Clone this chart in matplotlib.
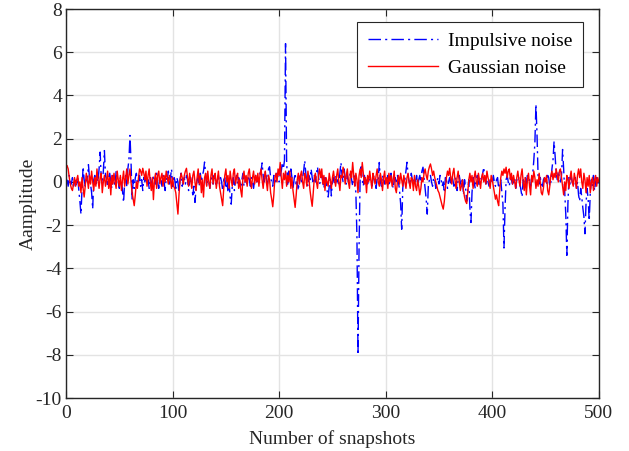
import numpy as np
import matplotlib.pyplot as plt

plt.rcParams['font.family'] = ['Liberation Serif', 'DejaVu Serif']
plt.rcParams['axes.unicode_minus'] = False

# impulsive noise, snapshots 1..500
impulsive = [
    0.1, -0.2, 0.3, 0.0, -0.1, 0.2, -0.3, 0.1, 0.0, -0.2,
    0.2, -0.4, -0.9, -1.5, -0.3, 0.7, 0.1, -0.2, 0.3, 0.0,
    0.8, 0.2, -0.1, -0.5, -1.25, 0.1, 0.3, -0.2, 0.4, 0.0,
    0.6, 1.38, 0.2, -0.1, 0.5, 1.45, 0.3, 0.1, -0.2, 0.2,
    0.4, 0.0, -0.3, 0.3, 0.1, -0.2, 0.5, 0.2, 0.0, -0.3,
    0.2, 0.1, -0.4, -0.95, 0.0, 0.3, -0.2, 0.6, 1.0, 2.15,
    0.9, -0.79, 0.1, -0.3, 0.2, 0.4, -0.1, 0.0, 0.3, -0.2,
    0.1, -0.4, 0.2, 0.0, 0.3, -0.1, 0.1, -0.3, 0.2, 0.0,
    -0.2, 0.3, 0.1, -0.1, 0.4, 0.0, -0.3, 0.2, 0.1, -0.2,
    0.3, 0.0, -0.4, 0.2, 0.1, 0.5, -0.1, 0.2, 0.6, -0.2,
    0.3, 0.1, -0.3, 0.2, 0.0, -0.5, 0.1, 0.4, -0.2, 0.0,
    0.2, -0.1, 0.3, 0.1, -0.4, 0.0, 0.2, -0.3, -0.6, -0.2,
    -0.95, -0.3, 0.1, 0.2, -0.2, 0.4, 0.0, 0.3, 0.5, 0.92,
    0.4, -0.2, 0.1, 0.0, -0.3, 0.2, 0.1, -0.1, 0.3, 0.0,
    -0.2, 0.1, 0.3, -0.1, 0.2, 0.0, -0.4, 0.1, 0.2, -0.3,
    0.1, -0.5, 0.0, -0.7, -1.03, -0.2, 0.2, -0.4, 0.1, 0.3,
    -0.1, 0.2, 0.0, -0.3, 0.1, 0.4, -0.2, 0.0, 0.2, -0.1,
    0.3, 0.1, -0.2, 0.2, 0.0, -0.3, 0.1, 0.3, 0.0, 0.2,
    -0.1, 0.4, 0.5, 0.88, 0.3, 0.0, 0.5, 0.2, -0.1, 0.6,
    0.7, 0.2, 0.0, -0.2, 0.3, 0.1, -0.1, 0.4, 0.2, 0.0,
    0.3, 0.5, 0.9, 0.6, 1.0, 6.4, 1.0, -0.2, 0.5, 0.1,
    0.6, 0.2, -0.3, 0.1, 0.4, -0.1, 0.0, -0.4, 0.2, 0.3,
    -0.1, 0.2, 0.5, 0.99, 0.4, 0.0, -0.2, 0.3, 0.1, 0.6,
    0.2, -0.1, 0.3, 0.0, 0.4, 0.7, 0.2, -0.1, 0.1, 0.3,
    0.0, -0.3, 0.2, 0.1, -0.4, -0.7, -0.2, 0.1, -0.65, 0.0,
    0.2, -0.1, 0.3, 0.0, 0.1, -0.2, 0.4, 0.9, 0.3, 0.0,
    0.6, 0.2, -0.1, 0.3, 0.0, 0.2, 0.5, 0.1, -0.2, 0.3,
    0.0, -0.5, -2.5, -8.0, -3.0, 0.2, 0.7, 0.1, -0.2, 0.3,
    0.0, 0.2, -0.1, 0.3, 0.1, 0.0, -0.2, 0.1, 0.3, 0.0,
    -0.3, 0.2, 0.1, 0.9, 0.0, -0.2, 0.3, 0.1, -0.1, 0.2,
    0.0, 0.3, -0.2, 0.1, 0.4, 0.0, -0.3, 0.1, 0.2, -0.1,
    0.3, 0.0, -0.4, -1.0, -2.19, -0.3, 0.2, 0.1, 0.5, 0.91,
    0.3, 0.0, -0.2, 0.4, 0.1, -0.1, 0.2, 0.0, 0.3, -0.2,
    0.1, 0.3, 0.0, 0.5, 0.68, 0.2, -0.3, -0.8, -1.49, -0.2,
    0.1, 0.3, 0.0, -0.2, 0.2, 0.1, -0.3, 0.0, 0.2, -0.1,
    0.3, 0.1, -0.2, 0.0, -0.5, 0.2, 0.1, -0.3, 0.0, 0.2,
    -0.1, 0.3, 0.1, -0.2, 0.0, 0.2, -0.4, 0.1, 0.3, 0.0,
    -0.2, 0.2, -0.6, 0.1, -0.3, -0.9, -0.4, 0.1, -1.2, -1.88,
    -0.5, 0.2, 0.0, -0.3, 0.1, 0.3, 0.0, -0.2, 0.2, 0.1,
    0.4, 0.68, 0.2, -0.1, 0.3, 0.0, -0.2, 0.1, 0.2, -0.1,
    0.3, 0.0, -0.2, 0.1, 0.2, -0.3, 0.0, 0.1, -0.5, -1.0,
    -3.06, -1.2, 0.1, 0.3, 0.0, -0.2, 0.2, 0.1, -0.1, 0.0,
    0.2, -0.3, 0.1, 0.0, 0.2, -0.1, -0.4, -0.7, 0.1, 0.0,
    0.2, -0.1, 0.3, 0.0, 0.1, -0.2, 0.2, 0.4, 1.0, 1.8,
    3.6, 2.2, 0.3, -0.1, 0.2, 0.0, -0.3, 0.1, 0.2, 0.0,
    -0.1, 0.3, 0.2, -0.2, 0.0, 0.6, 1.0, 1.87, 1.2, 0.4,
    0.1, 0.5, 0.2, 0.0, 0.3, 1.5, 0.6, -0.5, -1.5, -3.4,
    -1.0, 0.2, -0.1, 0.3, 0.0, -0.2, 0.1, 0.2, -0.3, 0.0,
    -0.6, -0.9, -0.3, -0.7, -1.2, -1.6, -2.4, -1.0, -0.3, -0.8,
    -1.8, -0.5, 0.1, -0.2, 0.3, -0.4, 0.0, 0.2, -0.1, 0.1,
]

# gaussian noise, snapshots 1..500
gaussian = [
    0.75, 0.6, 0.2, -0.1, -0.3, -0.4, -0.1, 0.2, -0.2, 0.1,
    0.3, -0.2, 0.0, -0.5, 0.2, -0.3, -0.7, -0.2, 0.4, 0.1,
    -0.3, 0.3, -0.1, 0.5, 0.0, -0.4, 0.2, -0.2, 0.6, 0.1,
    -0.3, 0.2, 0.4, -0.5, 0.0, 0.3, -0.2, 0.1, 0.5, -0.3,
    0.2, -0.6, 0.3, -0.1, 0.4, 0.0, -0.3, 0.5, 0.1, -0.2,
    0.3, -0.4, 0.1, 0.5, -0.2, 0.2, 0.6, -0.1, 0.3, 0.6,
    0.0, -0.5, -0.8, -1.1, -0.6, 0.0, -0.3, 0.2, 0.6, 0.5,
    0.3, 0.63, 0.4, 0.1, 0.5, -0.2, 0.3, 0.6, 0.0, -0.4,
    0.2, -0.82, 0.1, 0.4, -0.3, 0.3, 0.5, -0.1, 0.2, 0.4,
    -0.2, 0.3, 0.0, 0.5, 0.2, -0.1, 0.3, 0.1, -0.3, 0.2,
    -0.2, -0.3, -0.5, -1.0, -1.49, -0.6, 0.1, 0.4, 0.2, -0.1,
    0.3, 0.5, 0.63, 0.2, -0.2, 0.4, 0.1, -0.3, 0.3, 0.5,
    0.0, -0.4, 0.2, 0.6, -0.1, 0.3, -0.5, 0.1, -0.7, 0.2,
    0.4, -0.2, 0.5, 0.0, -0.3, 0.3, 0.6, -0.1, 0.2, 0.4,
    -0.3, 0.1, 0.5, -0.2, -0.5, -0.8, -1.1, -0.3, 0.3, 0.6,
    0.0, 0.3, -0.3, 0.5, 0.1, -0.2, 0.4, 0.6, -0.1, 0.2,
    0.4, -0.3, 0.1, -0.4, -0.7, 0.2, 0.5, 0.0, 0.3, -0.2,
    0.4, 0.6, 0.1, -0.3, 0.2, 0.5, -0.1, 0.3, 0.0, 0.4,
    -0.2, 0.3, 0.6, 0.1, -0.3, 0.2, 0.5, 0.0, -0.4, 0.3,
    0.1, -0.5, -0.8, -1.15, -0.6, 0.2, 0.4, 0.0, 0.6, 0.3,
    0.9, 0.2, -0.3, 0.4, 0.1, 0.5, -0.2, 0.3, 0.0, 0.5,
    -0.3, 0.2, -0.4, -0.8, -1.18, -0.6, 0.1, 0.4, -0.1, 0.3,
    0.5, 0.0, -0.3, 0.4, 0.2, -0.2, 0.5, 0.1, -0.4, -0.8,
    -1.13, -0.5, 0.2, 0.4, 0.0, -0.3, 0.3, 0.6, 0.2, 0.6,
    -0.1, 0.3, -0.4, 0.2, 0.0, -0.2, 0.4, 0.1, -0.3, 0.2,
    0.5, 0.1, -0.2, 0.3, 0.6, 0.0, -0.4, 0.3, 0.2, 0.68,
    0.4, -0.1, 0.3, 0.6, 0.0, -0.3, 0.5, 0.2, 0.9, 0.3,
    -0.2, 0.4, 0.1, -0.5, 0.3, 0.6, 0.2, 0.9, 0.4, -0.1,
    0.2, -0.5, 0.3, 0.0, 0.5, 0.1, -0.3, 0.4, 0.2, -0.1,
    0.3, 0.6, 0.0, -0.2, 0.4, 0.1, -0.4, 0.2, 0.5, -0.1,
    0.2, -0.3, 0.4, 0.0, 0.3, -0.2, 0.1, 0.5, -0.3, -0.5,
    0.0, 0.3, -0.1, 0.4, 0.1, -0.2, 0.3, 0.0, -0.3, 0.2,
    0.4, 0.0, -0.3, 0.2, 0.1, -0.4, 0.3, -0.2, -0.4, 0.1,
    -0.2, -0.6, -0.3, 0.2, 0.0, 0.4, 0.6, 0.3, 0.1, 0.5,
    0.7, 0.83, 0.6, 0.3, 0.5, 0.2, 0.0, -0.2, -0.4, -0.5,
    -0.7, -0.9, -1.1, -1.26, -0.9, -0.3, 0.2, 0.5, 0.3, 0.63,
    0.2, -0.1, 0.4, 0.63, 0.1, -0.3, 0.2, 0.5, 0.0, -0.4,
    -0.2, 0.1, -0.4, -0.7, -0.9, -1.0, -0.5, 0.1, 0.4, 0.0,
    0.3, -0.3, 0.2, 0.5, 0.0, -0.2, 0.4, 0.1, -0.3, 0.2,
    0.4, 0.0, 0.3, -0.1, 0.5, 0.2, 0.0, -0.3, 0.3, 0.1,
    -0.2, -0.5, -0.8, -0.6, -0.9, -1.1, -0.4, 0.2, 0.5, 0.3,
    0.6, 0.4, 0.68, 0.2, 0.5, 0.6, 0.1, 0.4, -0.1, 0.3,
    0.0, -0.3, 0.2, 0.5, 0.1, -0.2, 0.3, 0.6, 0.0, -0.4,
    0.2, -0.6, 0.1, 0.4, -0.2, -0.6, 0.3, 0.0, 0.5, 0.2,
    -0.3, 0.1, -0.2, 0.4, 0.0, -0.5, -0.6, -0.3, 0.2, 0.0,
    0.3, -0.4, -0.6, -0.2, 0.3, 0.5, 0.1, 0.4, 0.2, 0.6,
    0.3, 0.0, 0.5, 0.6, 0.2, -0.2, -0.6, 0.0, -0.4, 0.3,
    0.1, -0.3, 0.2, 0.5, 0.0, -0.2, 0.4, 0.1, -0.3, 0.3,
    0.6, 0.2, 0.6, 0.0, -0.3, 0.4, 0.1, -0.5, 0.2, -0.2,
    0.3, -0.5, 0.0, 0.2, -0.4, 0.1, 0.3, -0.2, 0.2, 0.0,
]

snapshots = np.arange(1, len(impulsive) + 1)

fig = plt.figure(figsize=(6.29, 4.51), dpi=100)
ax = fig.add_axes([0.105, 0.1175, 0.847, 0.8625])

ax.plot(snapshots, impulsive, color='blue', linestyle=(0, (9, 3, 1.5, 3)), linewidth=1.0,
        label='Impulsive noise')
ax.plot(snapshots, gaussian, color='red', linestyle='-', linewidth=1.0, label='Gaussian noise')

ax.set_xlim(0, 500)
ax.set_ylim(-10, 8)
ax.set_xticks(np.arange(0, 501, 100))
ax.set_yticks(np.arange(-10, 9, 2))
ax.grid(True, color='#e3e3e3', linewidth=1.0)
ax.set_axisbelow(True)
ax.tick_params(direction='in', top=True, right=True, labelsize=14, colors='#262626',
               length=5, pad=3)
ax.tick_params(axis='x', pad=5)
for s in ax.spines.values():
    s.set_color('#262626')
    s.set_linewidth(1.0)

ax.set_xlabel('Number of snapshots', fontsize=14, color='#262626', labelpad=6)
ax.set_ylabel('Aamplitude', fontsize=14, color='#262626', labelpad=-1)

leg = ax.legend(loc='upper right', bbox_to_anchor=(0.970, 0.967), borderaxespad=0,
                fontsize=14, handlelength=3.6, handletextpad=0.5, fancybox=False,
                framealpha=1, edgecolor='#262626', borderpad=0.55, labelspacing=0.45)
leg.get_frame().set_linewidth(0.8)

fig.savefig('out.png', dpi=100)
